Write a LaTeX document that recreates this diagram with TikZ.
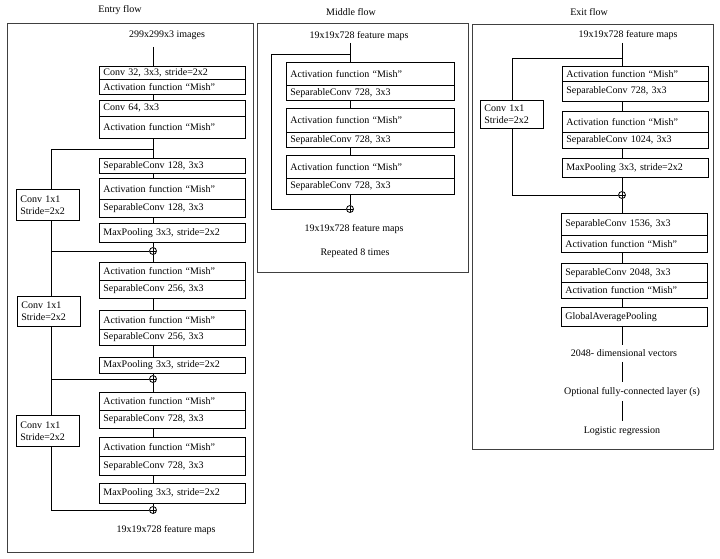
\documentclass[tikz,border=0pt]{standalone}
\usepackage{fontspec}
\setmainfont{Liberation Serif}
\begin{document}
\begin{tikzpicture}[x=1pt,y=-1pt,
  every path/.style={line width=0.8pt},
  frame/.style={draw=black!75, line width=0.9pt},
  lbl/.style={inner sep=0pt, font=\fontsize{10}{12}\selectfont},
  rowbase/.style={draw, fill=white, anchor=north west, inner xsep=4pt, inner ysep=0pt, align=left, font=\fontsize{10}{12}\selectfont},
  ebox/.style={rowbase, text width=138pt},
  mbox/.style={rowbase, text width=160pt},
  cbox/.style={draw, fill=white, anchor=north west, inner xsep=4pt, inner ysep=0pt, align=left, text width=55pt, font=\fontsize{10}{12}\selectfont},
  plus/.style={circle, draw, fill=white, minimum size=7pt, inner sep=0pt,
    path picture={\draw[line width=0.6pt] (path picture bounding box.north) -- (path picture bounding box.south)
      (path picture bounding box.west) -- (path picture bounding box.east);}}
]
\useasboundingbox (0,0) rectangle (720,559);
\fill[white] (0,0) rectangle (720,559);

% ---------------- frames and titles
\node[lbl] (t1) at (120,10) {Entry flow};
\node[lbl] (t2) at (351,12) {Middle flow};
\node[lbl] (t3) at (589,12) {Exit flow};
\draw[frame] (7,23) rectangle (253,552);
\draw[frame] (257,23) rectangle (468,272);
\draw[frame] (472,24) rectangle (713,449);

% ================= ENTRY FLOW
\coordinate (ex) at (153,0);
\coordinate (el) at (51,0);
\node[lbl] (in1) at (167,35) {299x299x3 images};

\node[ebox, minimum height=13pt] (e1a) at (99,66) {Conv 32, 3x3, stride=2x2};
\node[ebox, minimum height=15pt] (e1b) at (99,79) {Activation function “Mish”};
\node[ebox, minimum height=16pt] (e2a) at (99,100) {Conv 64, 3x3};
\node[ebox, minimum height=22pt] (e2b) at (99,116) {Activation function “Mish”};
\node[ebox, minimum height=15pt] (e3) at (99,158) {SeparableConv 128, 3x3};
\node[ebox, minimum height=21pt] (e4a) at (99,178) {Activation function “Mish”};
\node[ebox, minimum height=18pt] (e4b) at (99,199) {SeparableConv 128, 3x3};
\node[ebox, minimum height=19pt] (e5) at (99,223) {MaxPooling 3x3, stride=2x2};
\node[plus] (p1) at (153,251) {};
\node[ebox, minimum height=18pt] (e6a) at (99,262) {Activation function “Mish”};
\node[ebox, minimum height=18pt] (e6b) at (99,280) {SeparableConv 256, 3x3};
\node[ebox, minimum height=19pt] (e7a) at (99,310) {Activation function “Mish”};
\node[ebox, minimum height=16pt] (e7b) at (99,329) {SeparableConv 256, 3x3};
\node[ebox, minimum height=16pt] (e8) at (99,357) {MaxPooling 3x3, stride=2x2};
\node[plus] (p2) at (153,379) {};
\node[ebox, minimum height=18pt] (e9a) at (99,392) {Activation function “Mish”};
\node[ebox, minimum height=18pt] (e9b) at (99,410) {SeparableConv 728, 3x3};
\node[ebox, minimum height=19pt] (e10a) at (99,437) {Activation function “Mish”};
\node[ebox, minimum height=19pt] (e10b) at (99,456) {SeparableConv 728, 3x3};
\node[ebox, minimum height=20pt] (e11) at (99,483) {MaxPooling 3x3, stride=2x2};
\node[plus] (p3) at (153,510) {};
\node[lbl] (out1) at (166,530) {19x19x728 feature maps};

\node[cbox, minimum height=31pt] (c1) at (16,189) {Conv 1x1\\Stride=2x2};
\node[cbox, minimum height=30pt] (c2) at (17,296) {Conv 1x1\\Stride=2x2};
\node[cbox, minimum height=31pt] (c3) at (16,415) {Conv 1x1\\Stride=2x2};

\draw ([yshift=-7pt]in1.south -| ex) -- (e1a.north -| ex);
\draw (e1b.south -| ex) -- (e2a.north -| ex);
\draw (e2b.south -| ex) -- (e3.north -| ex);
\draw (e3.south -| ex) -- (e4a.north -| ex);
\draw (e4b.south -| ex) -- (e5.north -| ex);
\draw (e5.south -| ex) -- (p1);
\draw (p1) -- (e6a.north -| ex);
\draw (e6b.south -| ex) -- (e7a.north -| ex);
\draw (e7b.south -| ex) -- (e8.north -| ex);
\draw (e8.south -| ex) -- (p2);
\draw (p2) -- (e9a.north -| ex);
\draw (e9b.south -| ex) -- (e10a.north -| ex);
\draw (e10b.south -| ex) -- (e11.north -| ex);
\draw (e11.south -| ex) -- (p3);

\coordinate (b1) at (153,149);
\coordinate (j1) at (51,251);
\coordinate (j2) at (51,379);
\draw (b1) -| (c1.north -| el);
\draw (c1.south -| el) |- (p1);
\draw (j1) -- (c2.north -| el);
\draw (c2.south -| el) |- (p2);
\draw (j2) -- (c3.north -| el);
\draw (c3.south -| el) |- (p3);

% ================= MIDDLE FLOW
\coordinate (mx) at (350,0);
\node[lbl] (in2) at (359,36) {19x19x728 feature maps};
\node[mbox, minimum height=23pt] (mAa) at (286,62) {Activation function “Mish”};
\node[mbox, minimum height=15pt] (mAb) at (286,85) {SeparableConv 728, 3x3};
\node[mbox, minimum height=24pt] (mBa) at (286,108) {Activation function “Mish”};
\node[mbox, minimum height=15pt] (mBb) at (286,132) {SeparableConv 728, 3x3};
\node[mbox, minimum height=23pt] (mCa) at (286,155) {Activation function “Mish”};
\node[mbox, minimum height=16pt] (mCb) at (286,178) {SeparableConv 728, 3x3};
\node[plus] (mp) at (350,209) {};
\node[lbl] (out2) at (354,229) {19x19x728 feature maps};
\node[lbl] (rep) at (355,253) {Repeated 8 times};

\draw ([yshift=-2pt]in2.south -| mx) -- (mAa.north -| mx);
\draw (mAb.south -| mx) -- (mBa.north -| mx);
\draw (mBb.south -| mx) -- (mCa.north -| mx);
\draw (mCb.south -| mx) -- (mp);
\coordinate (mb) at (350,54);
\coordinate (ml) at (271,54);
\draw (mb) -- (ml) |- (mp);

% ================= EXIT FLOW
\coordinate (xx) at (622,0);
\coordinate (xl) at (512,0);
\node[lbl] (in3) at (628,35) {19x19x728 feature maps};
\node[ebox, minimum height=15pt] (x1a) at (562,66) {Activation function “Mish”};
\node[ebox, minimum height=20pt] (x1b) at (562,81) {SeparableConv 728, 3x3};
\node[ebox, minimum height=21pt] (x2a) at (562,111) {Activation function “Mish”};
\node[ebox, minimum height=16pt] (x2b) at (562,132) {SeparableConv 1024, 3x3};
\node[ebox, minimum height=19pt] (x3) at (562,158) {MaxPooling 3x3, stride=2x2};
\node[plus] (xp) at (622,195) {};
\node[ebox, minimum height=22pt] (x4a) at (561,213) {SeparableConv 1536, 3x3};
\node[ebox, minimum height=17pt] (x4b) at (561,235) {Activation function “Mish”};
\node[ebox, minimum height=19pt] (x5a) at (561,263) {SeparableConv 2048, 3x3};
\node[ebox, minimum height=16pt] (x5b) at (561,282) {Activation function “Mish”};
\node[ebox, minimum height=19pt] (x6) at (561,307) {GlobalAveragePooling};
\node[lbl] (v1) at (624,353) {2048- dimensional vectors};
\node[lbl] (v2) at (632,392) {Optional fully-connected layer (s)};
\node[lbl] (v3) at (622,431) {Logistic regression};
\node[cbox, minimum height=28pt] (xc) at (480,100) {Conv 1x1\\Stride=2x2};

\draw ([yshift=-3pt]in3.south -| xx) -- (x1a.north -| xx);
\draw (x1b.south -| xx) -- (x2a.north -| xx);
\draw (x2b.south -| xx) -- (x3.north -| xx);
\draw (x3.south -| xx) -- (xp);
\draw (xp) -- (x4a.north -| xx);
\draw (x4b.south -| xx) -- (x5a.north -| xx);
\draw (x5b.south -| xx) -- (x6.north -| xx);
\draw (x6.south -| xx) -- ([yshift=4pt]v1.north -| xx);
\draw ([yshift=-5pt]v1.south -| xx) -- ([yshift=5pt]v2.north -| xx);
\draw ([yshift=-4pt]v2.south -| xx) -- ([yshift=5pt]v3.north -| xx);
\coordinate (xb) at (622,58);
\draw (xb) -| (xc.north -| xl);
\draw (xc.south -| xl) |- (xp);
\end{tikzpicture}
\end{document}
